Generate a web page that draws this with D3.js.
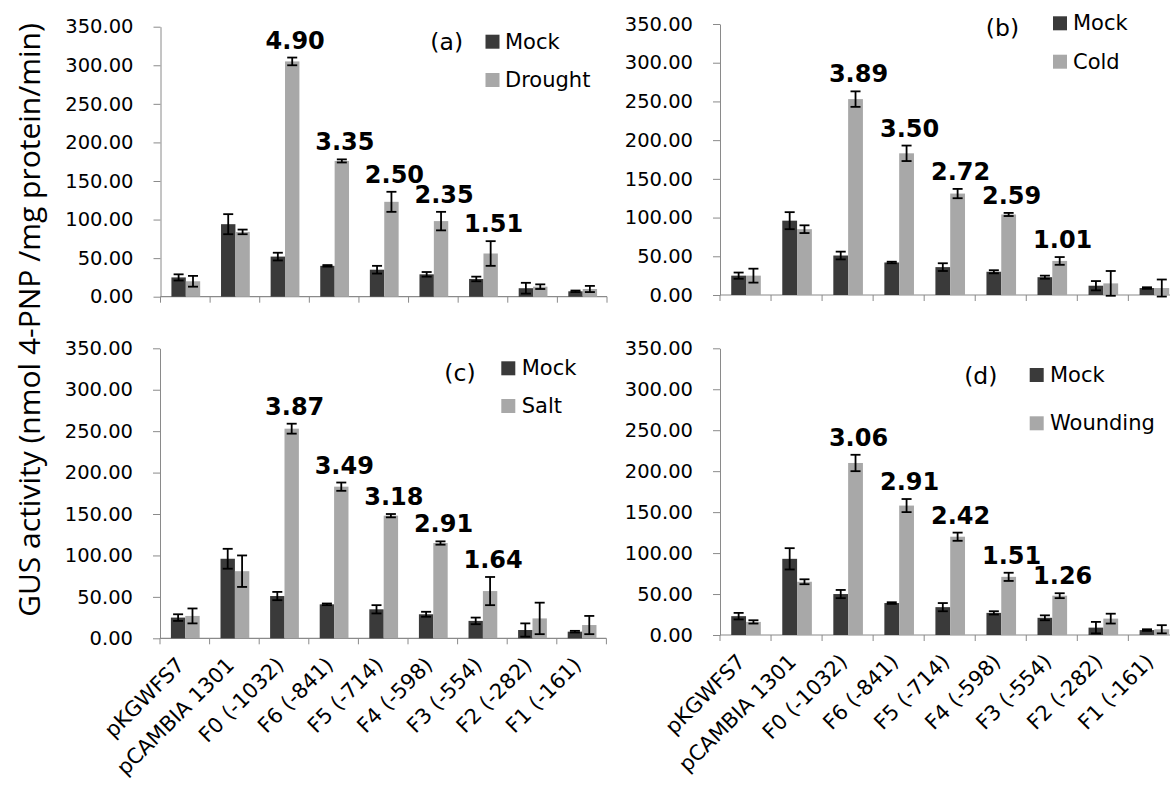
<!DOCTYPE html>
<html><head><meta charset="utf-8">
<script src="https://cdn.jsdelivr.net/npm/d3@7/dist/d3.min.js"></script>
<style>html,body{margin:0;padding:0;background:#fff;} svg{display:block;}</style>
</head><body><svg id="chart" width="1170" height="789"></svg>
<script>
// ---------- data ----------
const categories = ["pKGWFS7","pCAMBIA 1301","F0 (-1032)","F6 (-841)","F5 (-714)","F4 (-598)","F3 (-554)","F2 (-282)","F1 (-161)"];
const yTicks = [0,50,100,150,200,250,300,350];
const treatments = ["Drought","Cold","Salt","Wounding"];
const panelLetters = ["(a)","(b)","(c)","(d)"];
const yTitle = "GUS activity (nmol 4-PNP /mg protein/min)";

const mockA      = [25, 94, 52, 40, 35, 29, 23, 11, 7];
const mockErrA   = [4, 13, 5, 1, 5, 3, 3, 7, 1];
const droughtA   = [20, 84, 305, 176, 123, 98, 56, 13, 10];
const droughtErrA= [7, 3, 5, 2, 13, 12, 16, 3, 4];
const foldA      = [null, null, "4.90", "3.35", "2.50", "2.35", "1.51", null, null];

const mockB      = [25, 96, 51, 42, 36, 30, 23, 12, 9];
const mockErrB   = [4, 11, 5, 1, 5, 2, 2, 6, 1];
const coldB      = [25, 85, 253, 183, 131, 104, 44, 15, 9];
const coldErrB   = [9, 5, 10, 10, 6, 2, 5, 16, 11];
const foldB      = [null, null, "3.89", "3.50", "2.72", "2.59", "1.01", null, null];

const mockC      = [25, 96, 51, 41, 35, 29, 21, 10, 8];
const mockErrC   = [4, 12, 5, 1, 5, 3, 4, 8, 1];
const saltC      = [27, 81, 253, 183, 148, 115, 57, 24, 16];
const saltErrC   = [9, 19, 6, 5, 2, 2, 17, 19, 11];
const foldC      = [null, null, "3.87", "3.49", "3.18", "2.91", "1.64", null, null];

const mockD      = [23, 93, 50, 39, 34, 27, 21, 9, 6];
const mockErrD   = [4, 13, 5, 1, 5, 2, 3, 7, 1];
const woundD     = [16, 65, 210, 158, 120, 71, 48, 20, 7];
const woundErrD  = [2, 3, 10, 8, 5, 5, 3, 6, 5];
const foldD      = [null, null, "3.06", "2.91", "2.42", "1.51", "1.26", null, null];

const seriesMock = [mockA, mockB, mockC, mockD];
const seriesMockErr = [mockErrA, mockErrB, mockErrC, mockErrD];
const seriesTreat = [droughtA, coldB, saltC, woundD];
const seriesTreatErr = [droughtErrA, coldErrB, saltErrC, woundErrD];
const seriesFold = [foldA, foldB, foldC, foldD];

// ---------- layout ----------
const layout = [
  {x0:160.5, x1:607,    yBase:296.7, yTop:26.7,  letterX:446.7, letterY:41.7,  legX:492.5,  legY:[41.7,80],    legTextX:505},
  {x0:720,   x1:1179.4, yBase:295,   yTop:24,    letterX:1002.5,letterY:28.3,  legX:1060,   legY:[23.3,61.7],  legTextX:1073},
  {x0:160,   x1:606.4,  yBase:638.3, yTop:348.3, letterX:460,   letterY:372.5, legX:508.3,  legY:[368.3,406],  legTextX:521.7},
  {x0:720,   x1:1179.4, yBase:635,   yTop:348.3, letterX:980.8, letterY:375.8, legX:1036.7, legY:[375,423.3],  legTextX:1050}
];
const DARK = "#3a3a3a", LIGHT = "#a8a8a8", AXIS = "#8a8a8a";
const FONT = "'DejaVu Sans', sans-serif";

const svg = d3.select("#chart");
svg.append("rect").attr("width",1170).attr("height",789).attr("fill","#fff");

layout.forEach((L, p) => {
  const g = svg.append("g");
  const x = d3.scaleBand().domain(categories).range([L.x0, L.x1]).padding(0);
  const bw = x.bandwidth();
  const sub = d3.scaleBand().domain(["mock","treat"]).range([0.22*bw, 0.8*bw]).padding(0);
  const y = d3.scaleLinear().domain([0,350]).range([L.yBase, L.yTop]);

  // y axis
  const ya = g.append("g").attr("transform",`translate(${L.x0},0)`)
    .call(d3.axisLeft(y).tickValues(yTicks).tickFormat(d3.format(".2f")).tickSize(7).tickSizeOuter(0).tickPadding(20));
  ya.selectAll("path,line").attr("stroke",AXIS).attr("stroke-width",1);
  ya.selectAll("text").attr("font-family",FONT).attr("font-size",19.5).attr("fill","#000");

  // x axis line + boundary ticks
  g.append("line").attr("x1",L.x0).attr("x2",L.x1).attr("y1",L.yBase).attr("y2",L.yBase)
    .attr("stroke",AXIS).attr("stroke-width",1.2);
  const bounds = categories.map(c => x(c)).concat([x(categories[categories.length-1]) + bw]);
  g.selectAll(".xt").data(bounds).enter().append("line")
    .attr("x1",d=>d).attr("x2",d=>d).attr("y1",L.yBase).attr("y2",L.yBase+6)
    .attr("stroke",AXIS).attr("stroke-width",1);
  if (p >= 2) {
    g.selectAll(".xl").data(categories).enter().append("text")
      .attr("transform", c => `translate(${x(c)+bw/2+1},${L.yBase+28}) rotate(-45)`)
      .attr("text-anchor","end").attr("font-family",FONT).attr("font-size",21).attr("fill","#000")
      .text(c => c);
  }

  const mock = seriesMock[p], mockE = seriesMockErr[p], tr = seriesTreat[p], trE = seriesTreatErr[p], fold = seriesFold[p];
  const rows = categories.map((c,i) => ({c, i, m:mock[i], me:mockE[i], t:tr[i], te:trE[i], f:fold[i]}));

  // bars
  g.selectAll(".bm").data(rows).enter().append("rect")
    .attr("x",d=>x(d.c)+sub("mock")).attr("width",sub.bandwidth())
    .attr("y",d=>y(d.m)).attr("height",d=>y(0)-y(d.m)).attr("fill",DARK);
  g.selectAll(".bt").data(rows).enter().append("rect")
    .attr("x",d=>x(d.c)+sub("treat")).attr("width",sub.bandwidth())
    .attr("y",d=>y(d.t)).attr("height",d=>y(0)-y(d.t)).attr("fill",LIGHT);

  // error bars
  const errs = [];
  rows.forEach(d => {
    errs.push({cx:x(d.c)+sub("mock")+sub.bandwidth()/2, v:d.m, e:d.me});
    errs.push({cx:x(d.c)+sub("treat")+sub.bandwidth()/2, v:d.t, e:d.te});
  });
  const eg = g.selectAll(".eb").data(errs).enter().append("g").attr("stroke","#000").attr("stroke-width",1.8);
  eg.append("line").attr("x1",d=>d.cx).attr("x2",d=>d.cx).attr("y1",d=>y(d.v-d.e)).attr("y2",d=>y(d.v+d.e));
  eg.append("line").attr("x1",d=>d.cx-5).attr("x2",d=>d.cx+5).attr("y1",d=>y(d.v+d.e)).attr("y2",d=>y(d.v+d.e));
  eg.append("line").attr("x1",d=>d.cx-5).attr("x2",d=>d.cx+5).attr("y1",d=>y(d.v-d.e)).attr("y2",d=>y(d.v-d.e));

  // fold labels
  g.selectAll(".fl").data(rows.filter(d=>d.f!==null)).enter().append("text")
    .attr("x",d=>x(d.c)+sub("treat")+sub.bandwidth()/2+3).attr("y",d=>y(d.t+d.te)-9)
    .attr("text-anchor","middle").attr("font-family",FONT).attr("font-weight","bold").attr("font-size",24)
    .attr("fill","#000").text(d=>d.f);

  // panel letter
  g.append("text").attr("x",L.letterX).attr("y",L.letterY).attr("dominant-baseline","central")
    .attr("text-anchor","middle").attr("font-family",FONT).attr("font-size",23.5).attr("fill","#000")
    .text(panelLetters[p]);

  // legend
  const leg = [{name:"Mock", col:DARK, y:L.legY[0]}, {name:treatments[p], col:LIGHT, y:L.legY[1]}];
  g.selectAll(".lr").data(leg).enter().append("rect")
    .attr("x",L.legX-7).attr("y",d=>d.y-7).attr("width",14).attr("height",14).attr("fill",d=>d.col);
  g.selectAll(".lt").data(leg).enter().append("text")
    .attr("x",L.legTextX).attr("y",d=>d.y).attr("dominant-baseline","central")
    .attr("font-family",FONT).attr("font-size",21).attr("fill","#000").text(d=>d.name);
});

// y title
svg.append("text").attr("transform","translate(40,320) rotate(-90)")
  .attr("text-anchor","middle").attr("font-family","'Open Sans', sans-serif").attr("font-size",30)
  .attr("fill","#000").text(yTitle);
</script>
</body></html>
